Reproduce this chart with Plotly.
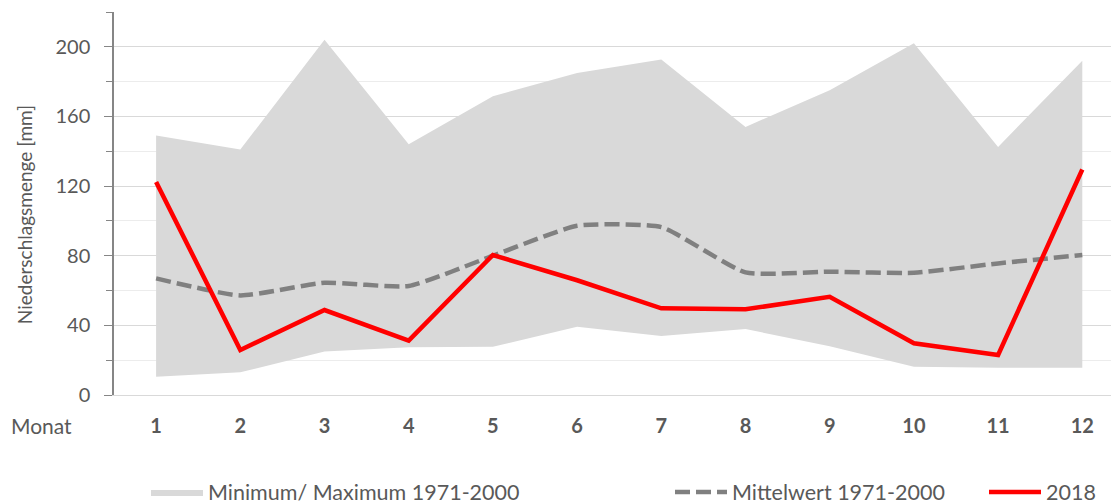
import plotly.graph_objects as go

months = [1, 2, 3, 4, 5, 6, 7, 8, 9, 10, 11, 12]
month_labels = [str(m) for m in months]
min_1971_2000 = [10.5, 13, 25, 27.5, 27.7, 39.2, 33.9, 37.9, 28, 16.2, 15.7, 15.7]
max_1971_2000 = [149, 141, 204, 144, 171.6, 185, 192.7, 154, 175, 202, 142.5, 192]
mean_1971_2000 = [67, 57.2, 64.5, 62.6, 80, 97.2, 96.4, 70.4, 70.8, 70.2, 75.6, 80.4]
y2018 = [122.4, 25.8, 48.8, 31.2, 80.4, 65.9, 49.8, 49.2, 56.4, 29.7, 23, 129.5]

FONT = "Lato"
TXT = "#595959"

fig = go.Figure()
fig.add_trace(go.Scatter(x=months, y=min_1971_2000, mode="lines", line=dict(width=0, color="#d9d9d9"),
                         showlegend=False, hoverinfo="skip"))
fig.add_trace(go.Scatter(x=months, y=max_1971_2000, mode="lines", line=dict(width=0, color="#d9d9d9"),
                         fill="tonexty", fillcolor="#d9d9d9", name="Minimum/ Maximum 1971-2000",
                         legend="legend"))
fig.add_trace(go.Scatter(x=months, y=mean_1971_2000, mode="lines",
                         line=dict(color="#808080", width=4.5, dash="15px,6px", shape="spline", smoothing=0.5),
                         name="Mittelwert 1971-2000", legend="legend2"))
fig.add_trace(go.Scatter(x=months, y=y2018, mode="lines", line=dict(color="#ff0000", width=4.5),
                         name="2018", legend="legend3"))

# page body has an 8px margin; the figure is sized to fill the rest of the window
OFF = 8
W, H = 1119 - OFF, 504 - OFF
L_REF, TOP_REF, BOT_REF = 114, 11.7, 395
L, T, B, R = L_REF - OFF, TOP_REF - OFF, H - (BOT_REF - OFF), 0
pw = W - L - R
ph = H - T - B
step = 84.2
x_hi = 0.5 + pw / step

def px_x(x):
    return (x - L_REF) / pw

def px_y(y):
    return (BOT_REF - y) / ph

legend_common = dict(orientation="h", yanchor="middle", xanchor="left",
                     font=dict(family=FONT, size=21.5, color=TXT), bgcolor="rgba(0,0,0,0)",
                     itemwidth=52, borderwidth=0)
fig.update_layout(
    width=W, height=H,
    margin=dict(l=L, r=R, t=T, b=B, autoexpand=False),
    paper_bgcolor="white", plot_bgcolor="white",
    font=dict(family=FONT, color=TXT),
    legend=dict(x=px_x(146), y=px_y(492), **legend_common),
    legend2=dict(x=px_x(670), y=px_y(492), **legend_common),
    legend3=dict(x=px_x(984), y=px_y(492), **legend_common),
    xaxis=dict(range=[0.5, x_hi], tickvals=months, ticktext=month_labels, showgrid=False,
               showline=True, linecolor="#d9d9d9", linewidth=1, ticks="", zeroline=False,
               tickfont=dict(family=FONT, size=20, color=TXT, weight="bold"),
               ticklabelstandoff=13),
    yaxis=dict(range=[0, 220], tick0=0, dtick=40, showgrid=True, gridcolor="#d9d9d9", gridwidth=1,
               showline=True, linecolor="#868686", linewidth=1.5, ticks="outside", ticklen=8,
               tickcolor="#868686", zeroline=False,
               tickfont=dict(family=FONT, size=20, color=TXT), ticklabelstandoff=10,
               minor=dict(dtick=20, showgrid=True, gridcolor="#ececec", ticks="outside", ticklen=6,
                          tickcolor="#868686")),
    annotations=[
        dict(text="Monat", x=px_x(9), y=px_y(426), xref="paper", yref="paper", xanchor="left",
             yanchor="middle", showarrow=False, font=dict(family=FONT, size=21, color=TXT)),
        dict(text="Niederschlagsmenge [mm]", x=px_x(24), y=px_y(215), xref="paper", yref="paper",
             xanchor="center", yanchor="middle", textangle=-90, showarrow=False,
             font=dict(family=FONT, size=19, color=TXT)),
    ],
)

fig.write_html("out.html")
